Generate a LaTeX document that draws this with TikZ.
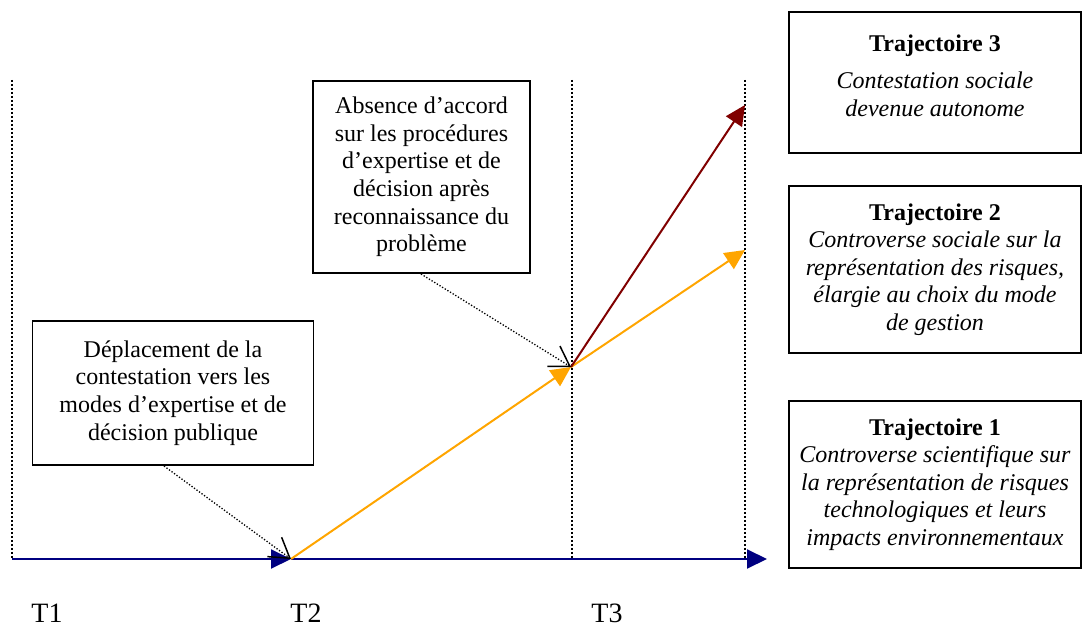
\documentclass[tikz,border=0pt]{standalone}
\usepackage{fontspec}
\setmainfont{Liberation Serif}
\usetikzlibrary{arrows.meta}
\definecolor{axisnavy}{HTML}{000080}
\definecolor{traorange}{HTML}{FFA500}
\definecolor{tradred}{HTML}{800000}
\begin{document}
\begin{tikzpicture}[x=1pt,y=-1pt,
  every node/.style={font=\fontsize{24}{27.6}\selectfont},
  notebox/.style={draw=black, line width=1.8pt, align=center, inner sep=0pt},
  plaintext/.style={align=center, inner sep=0pt},
  timelabel/.style={anchor=base, inner sep=0pt, font=\fontsize{28}{32}\selectfont},
  guide/.style={line width=1.4pt, dash pattern=on 1.6pt off 2.4pt},
  pointer/.style={line width=1.3pt, dash pattern=on 1.3pt off 1.8pt,
    -{Straight Barb[length=19pt,width=24pt,line width=1.5pt]}},
  axisline/.style={draw=axisnavy, line width=2pt, -{Triangle[length=20pt,width=19pt]}},
  orangeline/.style={draw=traorange, line width=2pt, -{Triangle[length=20pt,width=19pt]}},
  redline/.style={draw=tradred, line width=2pt, -{Triangle[length=20pt,width=19pt]}}
]
\useasboundingbox (0,0) rectangle (1082,628);

% coordinates
\coordinate (t1pt) at (12,559);
\coordinate (t2pt) at (291,559);
\coordinate (axend) at (767,559);
\coordinate (junc) at (571,367);
\coordinate (end2) at (745,250);
\coordinate (end3) at (745,105);
\coordinate (g1top) at (12,80);
\coordinate (g2top) at (572,80);
\coordinate (g2bot) at (572,559);
\coordinate (g3top) at (745,80);
\coordinate (g3bot) at (745,559);
\coordinate (p1) at (164,466);
\coordinate (p2) at (421,274);

% guides
\draw[guide] (g1top) -- (t1pt);
\draw[guide] (g2top) -- (g2bot);
\draw[guide] (g3top) -- (g3bot);

% boxes
\node[notebox, minimum width=281pt, minimum height=144pt] (shift) at (173,393)
  {Déplacement de la\\contestation vers les\\modes d’expertise et de\\décision publique};
\node[notebox, minimum width=217pt, minimum height=192pt] (noagree) at (421.5,177)
  {Absence d’accord\\sur les procédures\\d’expertise et de\\décision après\\reconnaissance du\\problème};

\node[notebox, minimum width=292pt, minimum height=141pt] (traj3) at (935,82.5) {};
\node[plaintext] (traj3txt) at ([yshift=7pt]traj3.center)
  {\textbf{Trajectoire 3}\\[10pt]\textit{Contestation sociale}\\\textit{devenue autonome}};
\node[notebox, minimum width=292pt, minimum height=167pt] (traj2) at (935,269.5)
  {\textbf{Trajectoire 2}\\\textit{Controverse sociale sur la}\\\textit{représentation des risques,}\\\textit{élargie au choix du mode}\\\textit{de gestion}};
\node[notebox, minimum width=292pt, minimum height=167pt] (traj1) at (935,484.5)
  {\textbf{Trajectoire 1}\\\textit{Controverse scientifique sur}\\\textit{la représentation de risques}\\\textit{technologiques et leurs}\\\textit{impacts environnementaux}};

% axis
\draw[axisline] (t1pt) -- (t2pt);
\draw[axisline] (t2pt) -- (axend);

% trajectories
\draw[orangeline] (t2pt) -- (junc);
\draw[orangeline] (junc) -- (end2);
\draw[redline] (junc) -- (end3);

% pointers
\draw[pointer] (p1) -- (t2pt);
\draw[pointer] (p2) -- (junc);

% time labels
\node[timelabel] (lt1) at (47,622) {T1};
\node[timelabel] (lt2) at (306,622) {T2};
\node[timelabel] (lt3) at (607,622) {T3};
\end{tikzpicture}
\end{document}
